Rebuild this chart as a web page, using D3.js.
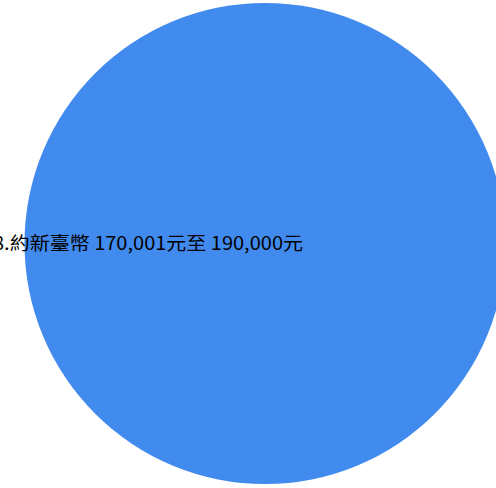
<!DOCTYPE html>
<html>
<head>
<meta charset="utf-8">
<title>Pie</title>
<script src="https://cdn.jsdelivr.net/npm/d3@7"></script>
<style>
html, body { margin: 0; padding: 0; background: #fff; overflow: hidden; }
svg { display: block; }
text { font-family: "Noto Sans CJK TC", "Noto Sans", sans-serif; }
</style>
</head>
<body>
<div id="chart"></div>
<script>
// data
var categories = ["8.約新臺幣 170,001元至 190,000元"];
var values = [1];
var colors = ["#428bee"];

var width = 496, height = 488;
var cx = 265, cy = 243.5, r = 240.5;

var svg = d3.select("#chart").append("svg")
  .attr("width", width)
  .attr("height", height);

var pie = d3.pie().sort(null).value(function(d) { return d; });
var arc = d3.arc().innerRadius(0).outerRadius(r);
var color = d3.scaleOrdinal().domain(categories).range(colors);

var g = svg.append("g").attr("transform", "translate(" + cx + "," + cy + ")");

var slices = g.selectAll("g.slice")
  .data(pie(values))
  .enter().append("g")
  .attr("class", "slice");

slices.append("path")
  .attr("d", arc)
  .attr("fill", function(d, i) { return color(categories[i]); });

// label sits to the left of the centre, like the original
slices.append("text")
  .attr("x", 38)
  .attr("y", 6.5)
  .attr("text-anchor", "end")
  .attr("fill", "#000")
  .attr("textLength", 310)
  .attr("lengthAdjust", "spacingAndGlyphs")
  .style("font-size", "18.5px")
  .text(function(d, i) { return categories[i]; });
</script>
</body>
</html>
